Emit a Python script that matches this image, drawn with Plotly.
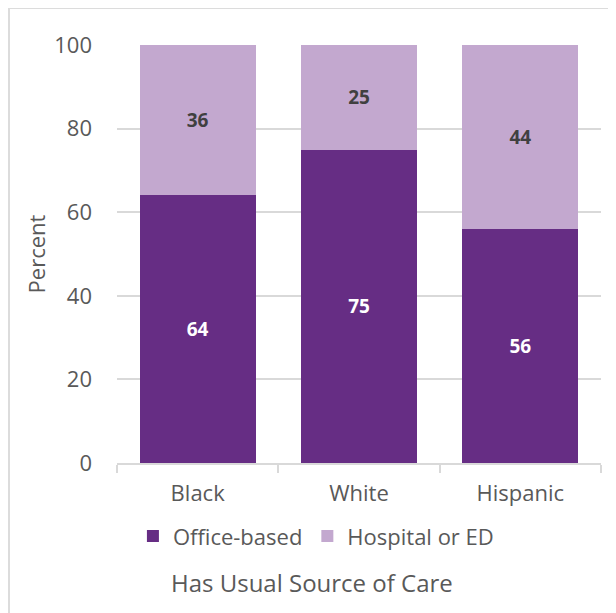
import plotly.graph_objects as go

categories = ["Black", "White", "Hispanic"]
office_based = [64, 75, 56]
hospital_ed = [36, 25, 44]
y_ticks = [0, 20, 40, 60, 80, 100]

DARK = "#662D84"
LIGHT = "#C3A8CF"
GRAY = "#595959"
FONT = "Open Sans"

fig = go.Figure()
fig.add_trace(go.Bar(
    x=categories, y=office_based, name="Office-based",
    marker=dict(color=DARK, line=dict(width=0)),
    text=office_based, textposition="inside", insidetextanchor="middle",
    textfont=dict(color="white", size=19, family=FONT, weight="bold"),
    textangle=0,
))
fig.add_trace(go.Bar(
    x=categories, y=hospital_ed, name="Hospital or ED",
    marker=dict(color=LIGHT, line=dict(width=0)),
    text=hospital_ed, textposition="inside", insidetextanchor="middle",
    textfont=dict(color="#404040", size=19, family=FONT, weight="bold"),
    textangle=0,
))

# page body adds an 8px offset, so the figure is 8px smaller and margins shifted
# outer frame of the chart (top/left edges visible)
fig.add_shape(type="rect", xref="paper", yref="paper",
              x0=-0.2231, y0=-0.5, x1=1.2, y1=1.0885,
              line=dict(color="#DCDCDC", width=2), layer="below")

fig.add_annotation(text="Has Usual Source of Care", xref="paper", yref="paper",
                   x=0.403, y=-0.285, showarrow=False, yanchor="middle",
                   font=dict(size=24, color=GRAY, family=FONT))

fig.update_layout(
    barmode="stack",
    bargap=0.28,
    width=608, height=605,
    margin=dict(l=109, r=15, t=37, b=150),
    plot_bgcolor="white", paper_bgcolor="white",
    font=dict(family=FONT, color=GRAY, size=22),
    legend=dict(orientation="h", x=0.411, xanchor="center", y=-0.175, yanchor="middle",
                font=dict(size=22, color=GRAY, family=FONT), traceorder="normal",
                itemwidth=30),
    xaxis=dict(
        showline=True, linecolor="#D9D9D9", linewidth=2,
        ticks="outside", tickson="boundaries", ticklen=8, tickcolor="#D9D9D9", tickwidth=2,
        ticklabelstandoff=10,
        tickfont=dict(size=22, color=GRAY, family=FONT),
    ),
    yaxis=dict(
        range=[0, 100], tickvals=y_ticks,
        showgrid=True, gridcolor="#D9D9D9", gridwidth=2,
        zeroline=False, showline=False,
        ticklabelstandoff=24,
        tickfont=dict(size=22, color=GRAY, family=FONT),
        title=dict(text="Percent", font=dict(size=22, color=GRAY, family=FONT), standoff=2),
    ),
)

fig.write_html("out.html")
